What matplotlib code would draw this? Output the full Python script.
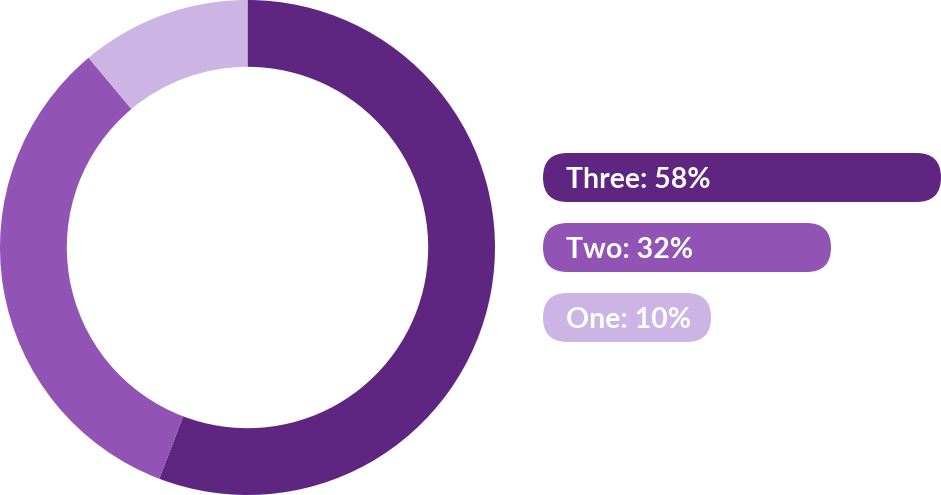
import matplotlib
matplotlib.use("Agg")
import matplotlib.pyplot as plt
from matplotlib.patches import FancyBboxPatch

names = ["Three", "Two", "One"]
ring_share = [55.8, 33.1, 11.1]
label_pct = [58, 32, 10]
# pill lengths (px of the legend area)
bar_len = [398, 288, 168]
colors = ["#5e2680", "#9153b4", "#ccb4e4"]

W, H = 941, 495
fig = plt.figure(figsize=(W / 100, H / 100), dpi=100)

# donut
ax = fig.add_axes([0, 0, H / W, 1])
ax.pie(ring_share, colors=colors, startangle=90, counterclock=False,
       radius=1.0, wedgeprops=dict(width=0.27, edgecolor="none", linewidth=0))
ax.set_xlim(-1.0, 1.0)
ax.set_ylim(-1.0, 1.0)
ax.set_aspect("equal")
ax.axis("off")

# pill legend, axes in pixel units
ax2 = fig.add_axes([0, 0, 1, 1], zorder=-1)
ax2.set_xlim(0, W)
ax2.set_ylim(H, 0)
ax2.axis("off")

x0 = 543
h = 49
for i, (n, p, L, c) in enumerate(zip(names, label_pct, bar_len, colors)):
    yc = 177.5 + i * 70
    r = h / 2
    box = FancyBboxPatch((x0 + r, yc), L - 2 * r, 0,
                         boxstyle="round,pad=%.1f" % r,
                         facecolor=c, edgecolor="none")
    ax2.add_patch(box)
    ax2.text(x0 + 23, yc + 10, "%s: %d%%" % (n, p), color="white",
             fontsize=20.5, fontweight="bold", family=["Lato", "DejaVu Sans"],
             ha="left", va="baseline")

fig.savefig("out.png", dpi=100)
